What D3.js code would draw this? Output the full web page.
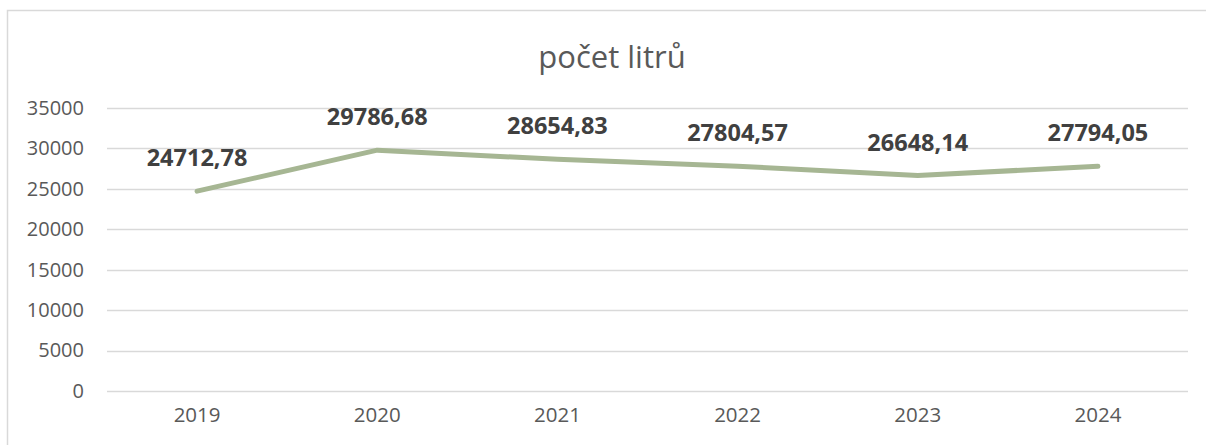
<!DOCTYPE html>
<html>
<head>
<meta charset="utf-8">
<script src="https://cdn.jsdelivr.net/npm/d3@7"></script>
<style>
  body { margin: 0; background: #fff; overflow: hidden; }
  svg { display: block; font-family: "Open Sans", sans-serif; }
</style>
</head>
<body>
<svg id="chart" width="1206" height="445"></svg>
<script>
// chart data
const years = ['2019', '2020', '2021', '2022', '2023', '2024'];
const litres = [24712.78, 29786.68, 28654.83, 27804.57, 26648.14, 27794.05];
const yTicks = [0, 5000, 10000, 15000, 20000, 25000, 30000, 35000];
const title = 'počet litrů';

const svg = d3.select('#chart');
const width = +svg.attr('width');
const height = +svg.attr('height');
const margin = { top: 108, right: 18, bottom: 54, left: 107 };

// outer chart frame (only top and left edges are inside the picture)
svg.append('path')
  .attr('d', `M7.5,${height}V10.5H${width}`)
  .attr('fill', 'none')
  .attr('stroke', '#d9d9d9')
  .attr('stroke-width', 1.5);

svg.append('text')
  .attr('x', 612).attr('y', 68)
  .attr('text-anchor', 'middle')
  .attr('fill', '#595959')
  .style('font-size', '31px')
  .text(title);

const x = d3.scaleBand()
  .domain(years)
  .range([margin.left, width - margin.right]);

const y = d3.scaleLinear()
  .domain([0, 35000])
  .range([height - margin.bottom, margin.top]);

// gridlines
svg.append('g')
  .selectAll('line')
  .data(yTicks)
  .join('line')
  .attr('x1', margin.left).attr('x2', width - margin.right)
  .attr('y1', d => Math.round(y(d)) + 0.5)
  .attr('y2', d => Math.round(y(d)) + 0.5)
  .attr('stroke', '#d9d9d9')
  .attr('stroke-width', 1.3);

// y axis labels
const yAxis = d3.axisLeft(y).tickValues(yTicks).tickSize(0).tickPadding(23).tickFormat(d3.format('d'));
svg.append('g')
  .attr('transform', `translate(${margin.left},0)`)
  .call(yAxis)
  .call(g => g.select('.domain').remove())
  .selectAll('text')
  .attr('fill', '#595959')
  .style('font-size', '20px')
  .style('font-family', '"Open Sans", sans-serif');

// x axis labels
const xAxis = d3.axisBottom(x).tickSize(0).tickPadding(16);
svg.append('g')
  .attr('transform', `translate(0,${height - margin.bottom})`)
  .call(xAxis)
  .call(g => g.select('.domain').remove())
  .selectAll('text')
  .attr('fill', '#595959')
  .style('font-size', '20.5px')
  .style('font-family', '"Open Sans", sans-serif');

const cx = d => x(d) + x.bandwidth() / 2;

const line = d3.line()
  .x((d, i) => cx(years[i]))
  .y(d => y(d));

svg.append('path')
  .datum(litres)
  .attr('d', line)
  .attr('fill', 'none')
  .attr('stroke', '#a6b693')
  .attr('stroke-width', 5)
  .attr('stroke-linecap', 'round')
  .attr('stroke-linejoin', 'round');

// data labels, Czech decimal comma
const fmt = d => d3.format('.2f')(d).replace('.', ',');
svg.append('g')
  .selectAll('text')
  .data(litres)
  .join('text')
  .attr('x', (d, i) => cx(years[i]))
  .attr('y', d => y(d) - 25)
  .attr('text-anchor', 'middle')
  .attr('fill', '#404040')
  .style('font-size', '23.5px')
  .style('font-weight', 'bold')
  .text(fmt);
</script>
</body>
</html>
